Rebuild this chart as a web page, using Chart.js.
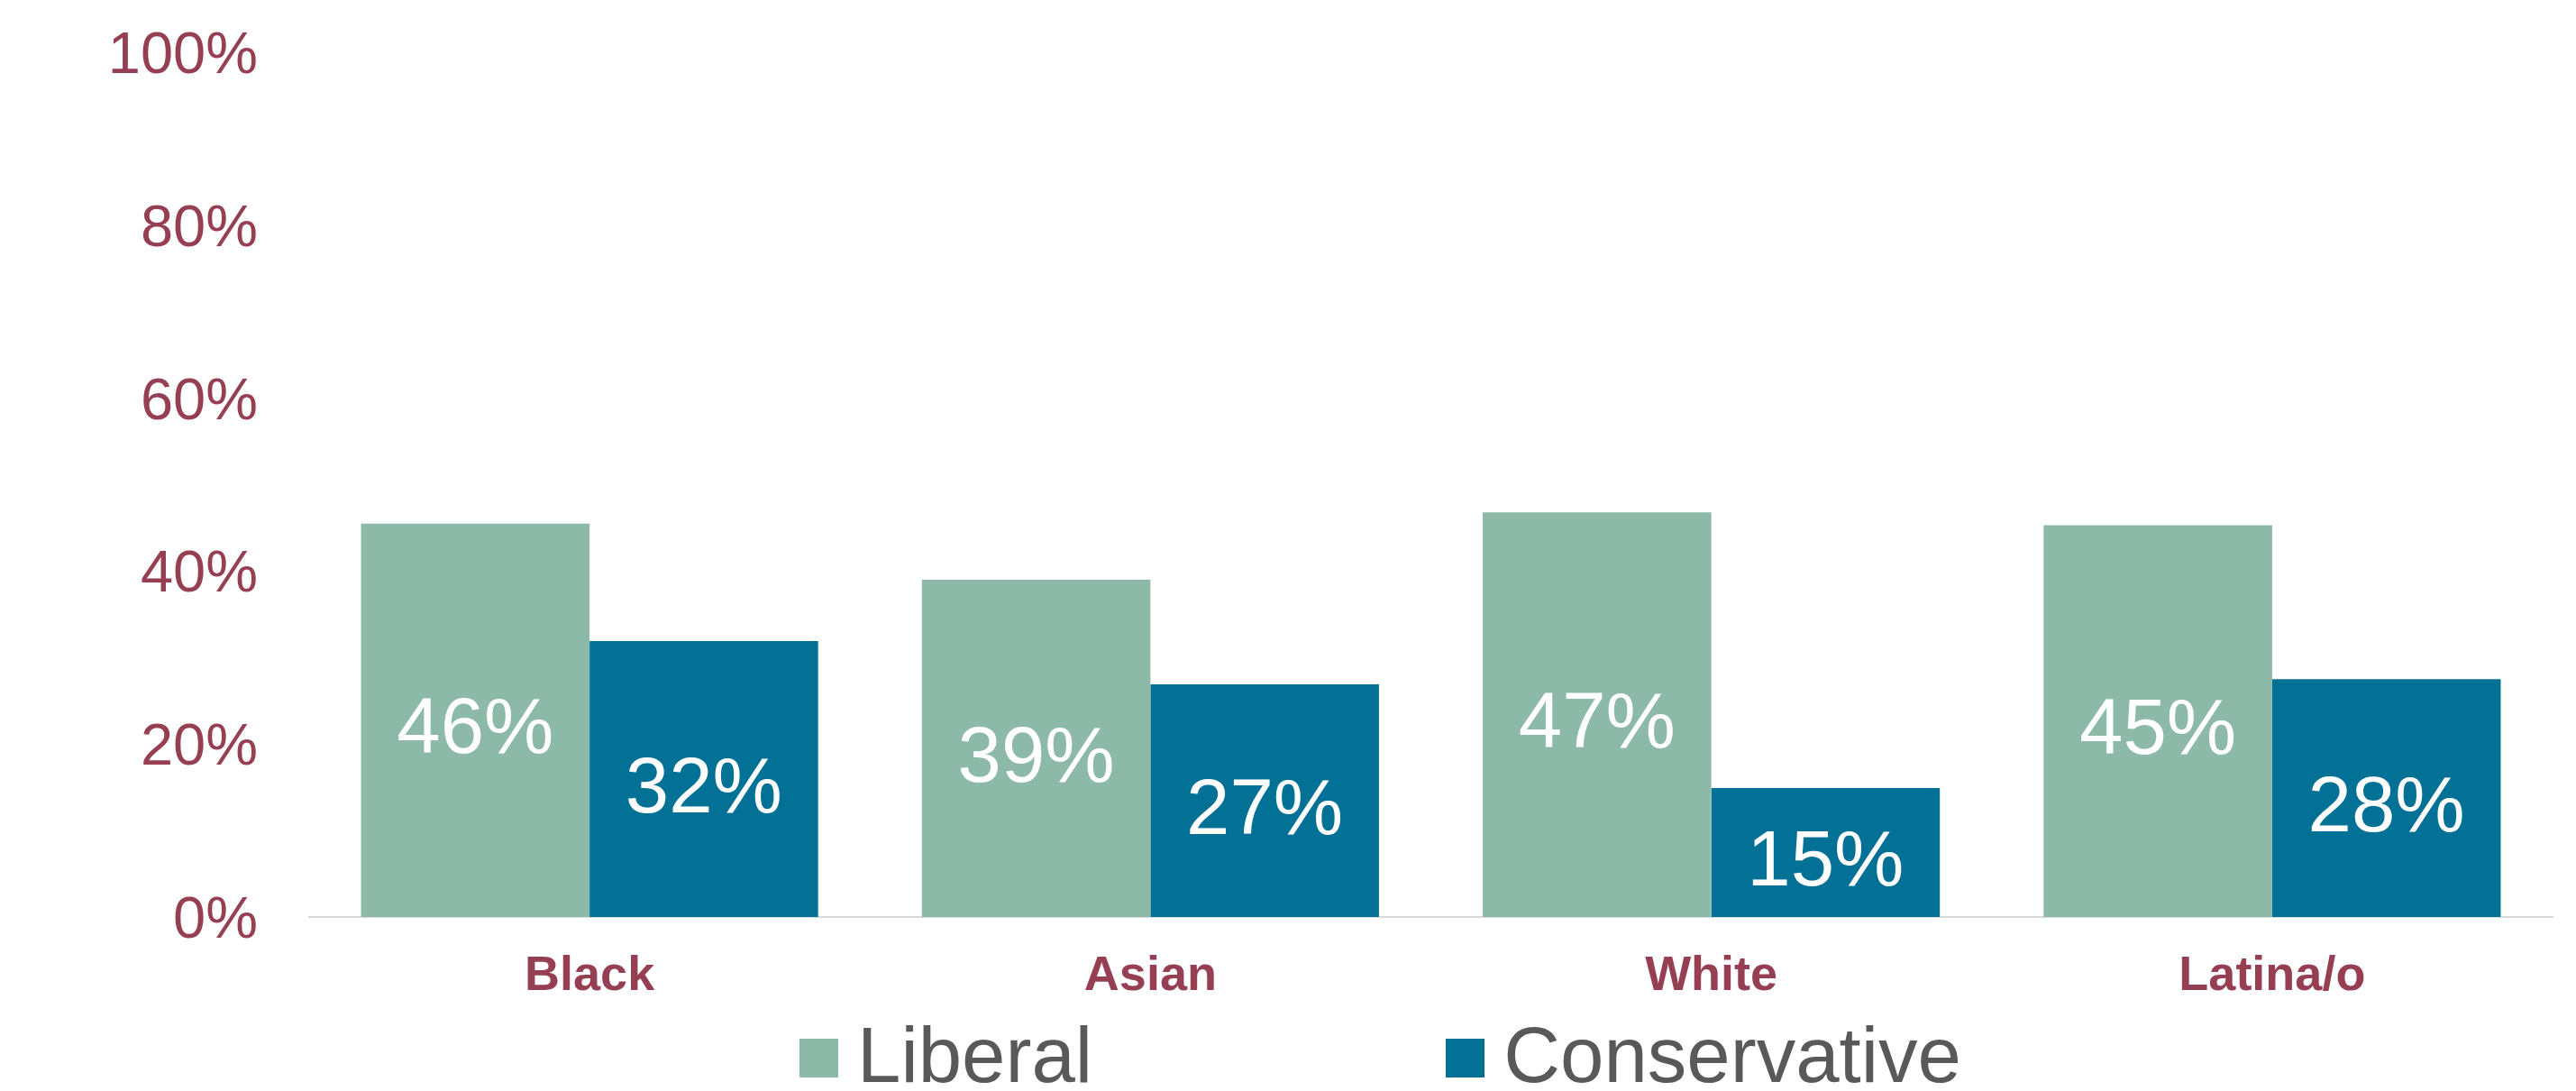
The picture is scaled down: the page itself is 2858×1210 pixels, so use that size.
<!DOCTYPE html>
<html>
<head>
<meta charset="utf-8">
<script src="https://cdn.jsdelivr.net/npm/chart.js@4.4.1/dist/chart.umd.min.js"></script>
<style>
  html, body { margin: 0; padding: 0; background: #ffffff; overflow: hidden; }
  #wrap { position: relative; width: 2858px; height: 1210px; }
  #legend { position: absolute; left: 887px; top: 1127px; height: 86px; display: flex; align-items: center;
            font-family: "Liberation Sans", Arial, sans-serif; font-size: 87px; line-height: 86px; color: #595959; }
  #legend .item { display: flex; align-items: center; white-space: nowrap; }
  #legend .item + .item { margin-left: 392px; }
  #legend .box { width: 43px; height: 43px; margin-right: 21px; margin-top: 6px; }
</style>
</head>
<body>
<div id="wrap">
  <canvas id="chart"></canvas>
  <div id="legend"></div>
</div>
<script>
// ---- data ----
const categories = ['Black', 'Asian', 'White', 'Latina/o'];
const seriesNames = ['Liberal', 'Conservative'];
const liberalValues = [45.5, 39.0, 46.8, 45.3];
const conservativeValues = [31.9, 26.9, 14.9, 27.5];
const yTickValues = [0, 20, 40, 60, 80, 100];

// ---- styles ----
const seriesColors = ['#8CB9A8', '#037096'];
const maroon = '#963F52';
const fontFamily = '"Liberation Sans", Arial, Helvetica, sans-serif';

// value labels centred inside each bar
const barValueLabels = {
  id: 'barValueLabels',
  afterDatasetsDraw(chart) {
    const ctx = chart.ctx;
    const size = 87;
    ctx.save();
    ctx.fillStyle = '#ffffff';
    ctx.font = `${size}px ${fontFamily}`;
    ctx.textAlign = 'center';
    ctx.textBaseline = 'alphabetic';
    chart.data.datasets.forEach((ds, i) => {
      const meta = chart.getDatasetMeta(i);
      if (meta.hidden) return;
      meta.data.forEach((bar, j) => {
        const p = bar.getProps(['x', 'y', 'base'], true);
        const mid = (p.y + p.base) / 2;
        ctx.fillText(Math.round(ds.data[j]) + '%', p.x, mid + size * 0.42);
      });
    });
    ctx.restore();
  }
};

// HTML legend built from the chart's own legend items
const htmlLegend = {
  id: 'htmlLegend',
  afterUpdate(chart) {
    const container = document.getElementById('legend');
    container.innerHTML = '';
    const items = chart.options.plugins.legend.labels.generateLabels(chart);
    items.forEach(item => {
      const el = document.createElement('div');
      el.className = 'item';
      const box = document.createElement('span');
      box.className = 'box';
      box.style.background = item.fillStyle;
      const txt = document.createElement('span');
      txt.textContent = item.text;
      el.appendChild(box);
      el.appendChild(txt);
      container.appendChild(el);
    });
  }
};

new Chart(document.getElementById('chart'), {
  type: 'bar',
  data: {
    labels: categories,
    datasets: [
      { label: seriesNames[0], data: liberalValues, backgroundColor: seriesColors[0] },
      { label: seriesNames[1], data: conservativeValues, backgroundColor: seriesColors[1] }
    ]
  },
  options: {
    responsive: true,
    maintainAspectRatio: false,
    devicePixelRatio: 1,
    animation: false,
    layout: { padding: { top: 58, right: 26, bottom: 0, left: 0 } },
    datasets: { bar: { barPercentage: 1.0, categoryPercentage: 0.815, borderWidth: 0 } },
    plugins: {
      legend: { display: false },
      tooltip: { enabled: false }
    },
    scales: {
      x: {
        grid: { display: true, drawOnChartArea: false, drawTicks: false },
        border: { display: true, color: '#D9D9D9', width: 2 },
        ticks: {
          padding: 34,
          color: maroon,
          font: { family: fontFamily, size: 54, weight: 'bold' }
        },
        afterFit(scale) { scale.height = 193; }
      },
      y: {
        min: 0,
        max: 100,
        grid: { display: false, drawTicks: false },
        border: { display: false },
        afterBuildTicks(scale) { scale.ticks = yTickValues.map(v => ({ value: v })); },
        ticks: {
          padding: 57,
          labelOffset: 5,
          color: maroon,
          font: { family: fontFamily, size: 65 },
          callback: v => v + '%'
        },
        afterFit(scale) {
          scale.width = 343;
          scale.paddingTop = 0;
          scale.paddingBottom = 0;
        }
      }
    }
  },
  plugins: [barValueLabels, htmlLegend]
});
</script>
</body>
</html>
